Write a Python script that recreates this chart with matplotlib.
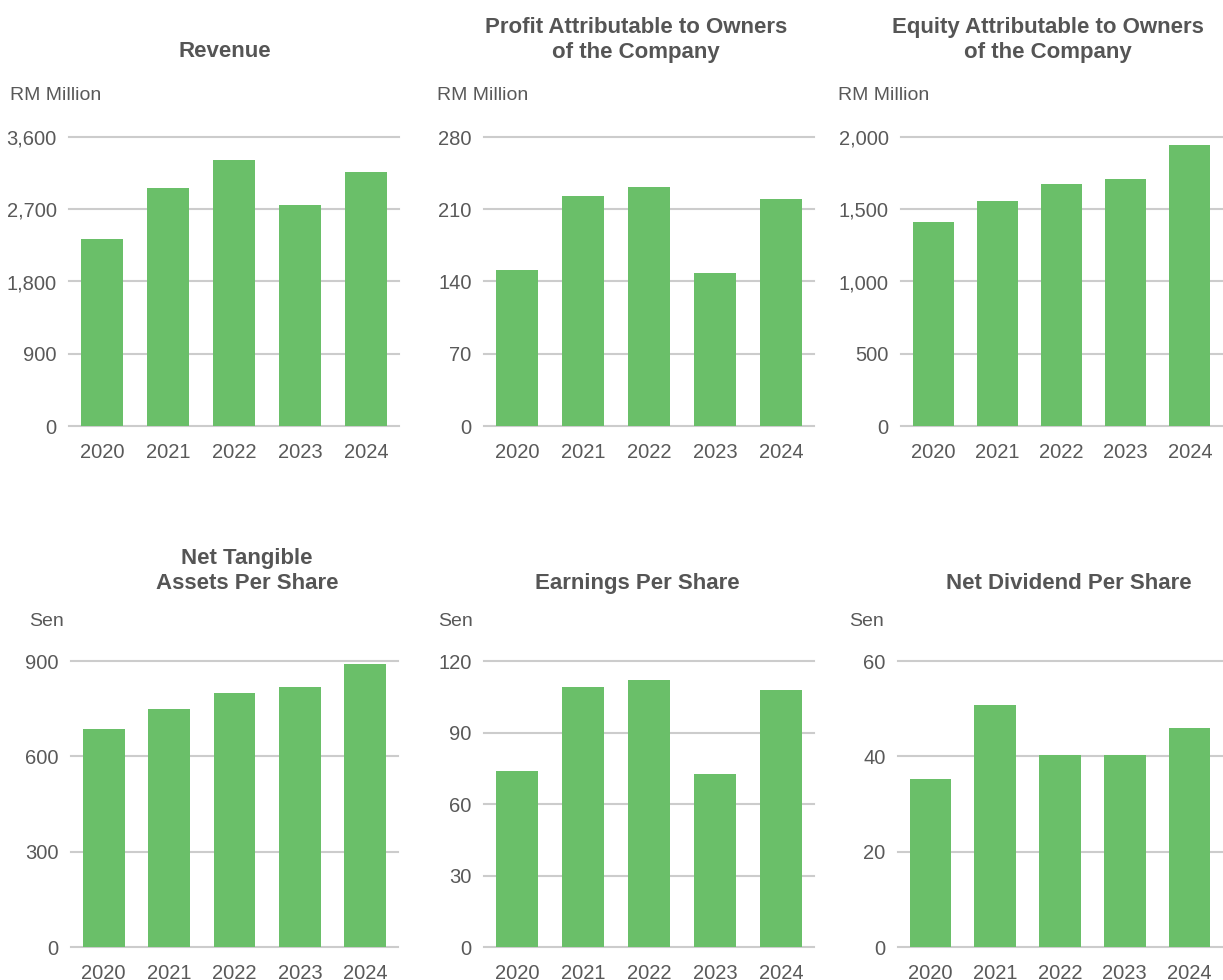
import matplotlib
matplotlib.use('Agg')
import matplotlib.pyplot as plt
from matplotlib.ticker import FuncFormatter

# Five-year financial highlights, six small bar panels

years = ['2020', '2021', '2022', '2023', '2024']

revenue = [2328, 2964, 3313, 2752, 3163]
profit = [151, 222.8, 231.5, 148, 219.9]
equity = [1411, 1557, 1674, 1709, 1945]
nta_per_share = [685, 748, 798, 817, 889]
eps = [73.8, 109, 111.9, 72.6, 107.7]
dps = [35.2, 50.7, 40.3, 40.3, 45.9]

titles = [
	'Revenue',
	'Profit Attributable to Owners\nof the Company',
	'Equity Attributable to Owners\nof the Company',
	'Net Tangible\nAssets Per Share',
	'Earnings Per Share',
	'Net Dividend Per Share',
]
units = ['RM Million', 'RM Million', 'RM Million', 'Sen', 'Sen', 'Sen']
y_ticks = [
	[0, 900, 1800, 2700, 3600],
	[0, 70, 140, 210, 280],
	[0, 500, 1000, 1500, 2000],
	[0, 300, 600, 900],
	[0, 30, 60, 90, 120],
	[0, 20, 40, 60],
]
series = [revenue, profit, equity, nta_per_share, eps, dps]

W, H = 1223, 980
BAR_COLOR = '#6abf69'
GRID_COLOR = '#cccccc'
TEXT_COLOR = '#595959'
TITLE_COLOR = '#555555'

plt.rcParams['font.family'] = ['Liberation Sans', 'DejaVu Sans']

# pixel boxes: left, top, right, bottom
axes_px = [
	(69, 137, 399, 426),
	(484, 137, 814, 426),
	(901, 137, 1222, 426),
	(71, 661, 398, 947),
	(484, 661, 814, 947),
	(898, 661, 1222, 947),
]
# title centre x, baseline-ish y of the last line
title_px = [(225, 62), (636, 63), (1048, 63), (247, 594), (637, 594), (1069, 594)]
unit_px = [(10, 96), (437, 96), (838, 96), (29, 622), (438, 622), (849, 622)]

fig = plt.figure(figsize=(W / 100, H / 100), dpi=100)

for i in range(6):
	l, t, r, b = axes_px[i]
	ax = fig.add_axes([l / W, 1 - b / H, (r - l) / W, (b - t) / H])
	ax.bar(range(len(years)), series[i], width=0.64, color=BAR_COLOR, zorder=2)
	ax.set_xlim(-0.5, len(years) - 0.5)
	ax.set_ylim(0, y_ticks[i][-1])
	ax.set_yticks(y_ticks[i])
	ax.yaxis.set_major_formatter(FuncFormatter(lambda v, p: '{:,.0f}'.format(v)))
	ax.set_xticks(range(len(years)))
	ax.set_xticklabels(years)
	ax.set_axisbelow(True)
	ax.yaxis.grid(True, color=GRID_COLOR, linewidth=1.5)
	for gl in ax.get_ygridlines():
		gl.set_clip_on(False)
	for s in ax.spines.values():
		s.set_visible(False)
	ax.tick_params(axis='both', length=0, labelsize=14.5, colors=TEXT_COLOR)
	ax.tick_params(axis='y', pad=9)
	ax.tick_params(axis='x', pad=12)

	# titles are anchored at the bottom so two-line ones grow upward
	tx, ty = title_px[i]
	fig.text(tx / W, 1 - ty / H, titles[i], ha='center', va='bottom', fontsize=16,
		fontweight='bold', color=TITLE_COLOR, linespacing=1.25)

	ux, uy = unit_px[i]
	fig.text(ux / W, 1 - uy / H, units[i], ha='left', va='center', fontsize=14, color=TEXT_COLOR)

fig.savefig('out.png', dpi=100)
